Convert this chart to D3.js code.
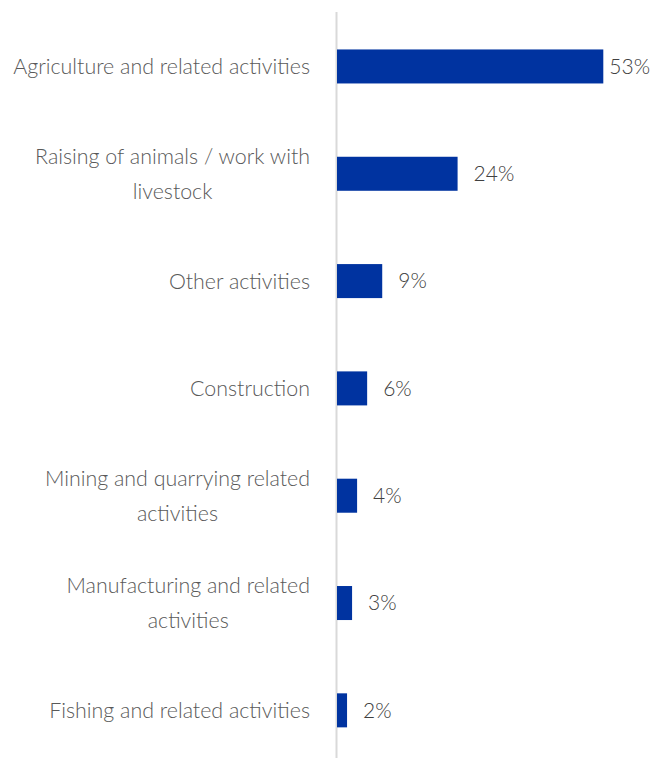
<!DOCTYPE html>
<html>
<head>
<meta charset="utf-8">
<script src="https://cdn.jsdelivr.net/npm/d3@7"></script>
<style>
  html, body { margin: 0; padding: 0; background: #ffffff; }
  svg { display: block; }
  text { font-family: "Lato", "Open Sans", sans-serif; font-weight: 300; }
</style>
</head>
<body>
<svg id="chart" width="651" height="758"></svg>
<script>
// Sectors of work, with each one's share of respondents (%)
const categories = [
  ["Agriculture and related activities"],
  ["Raising of animals / work with", "livestock"],
  ["Other activities"],
  ["Construction"],
  ["Mining and quarrying related", "activities"],
  ["Manufacturing and related", "activities"],
  ["Fishing and related activities"]
];
const values = [53, 24, 9, 6, 4, 3, 2];
const valueLabels = values.map(v => v + "%");

const W = 651, H = 758;
const svg = d3.select("#chart");

const keys = categories.map((c, i) => i);
const y = d3.scaleBand()
  .domain(keys)
  .range([12.8, 764])
  .paddingInner(0.683)
  .paddingOuter(0.3415);

const x = d3.scaleLinear()
  .domain([0, 53])
  .range([337, 603.3]);

// vertical category axis line
svg.append("line")
  .attr("x1", x(0) - 0.5).attr("x2", x(0) - 0.5)
  .attr("y1", 12).attr("y2", H)
  .attr("stroke", "#d9d9d9")
  .attr("stroke-width", 2);

// bars
svg.append("g").selectAll("rect")
  .data(values)
  .join("rect")
  .attr("x", x(0))
  .attr("y", (d, i) => y(i))
  .attr("width", d => x(d) - x(0))
  .attr("height", y.bandwidth())
  .attr("fill", "#0033a0");

// category labels: each block is right-aligned to the axis, its lines centred
const labelRight = 310;
const lineGap = 35;
const cat = svg.append("g").selectAll("text")
  .data(categories)
  .join("text")
  .attr("fill", "#595959")
  .style("font-size", "21.4px");
cat.each(function (lines, i) {
  const cy = y(i) + y.bandwidth() / 2;
  const t = d3.select(this);
  const spans = lines.map((ln, k) => t.append("tspan")
    .attr("y", cy + (k - (lines.length - 1) / 2) * lineGap)
    .attr("dy", "0.35em")
    .text(ln));
  const maxW = d3.max(spans, s => s.node().getComputedTextLength());
  t.attr("text-anchor", "middle");
  spans.forEach(s => s.attr("x", labelRight - maxW / 2));
});

// value labels at the end of each bar
svg.append("g").selectAll("text")
  .data(values)
  .join("text")
  .attr("fill", "#404040")
  .style("font-size", "21px")
  .attr("y", (d, i) => y(i) + y.bandwidth() / 2)
  .attr("dy", "0.35em")
  .text((d, i) => valueLabels[i])
  .attr("x", function (d) {
    const w = this.getComputedTextLength();
    return Math.min(x(d) + 16, W - w - 1);
  });
</script>
</body>
</html>
